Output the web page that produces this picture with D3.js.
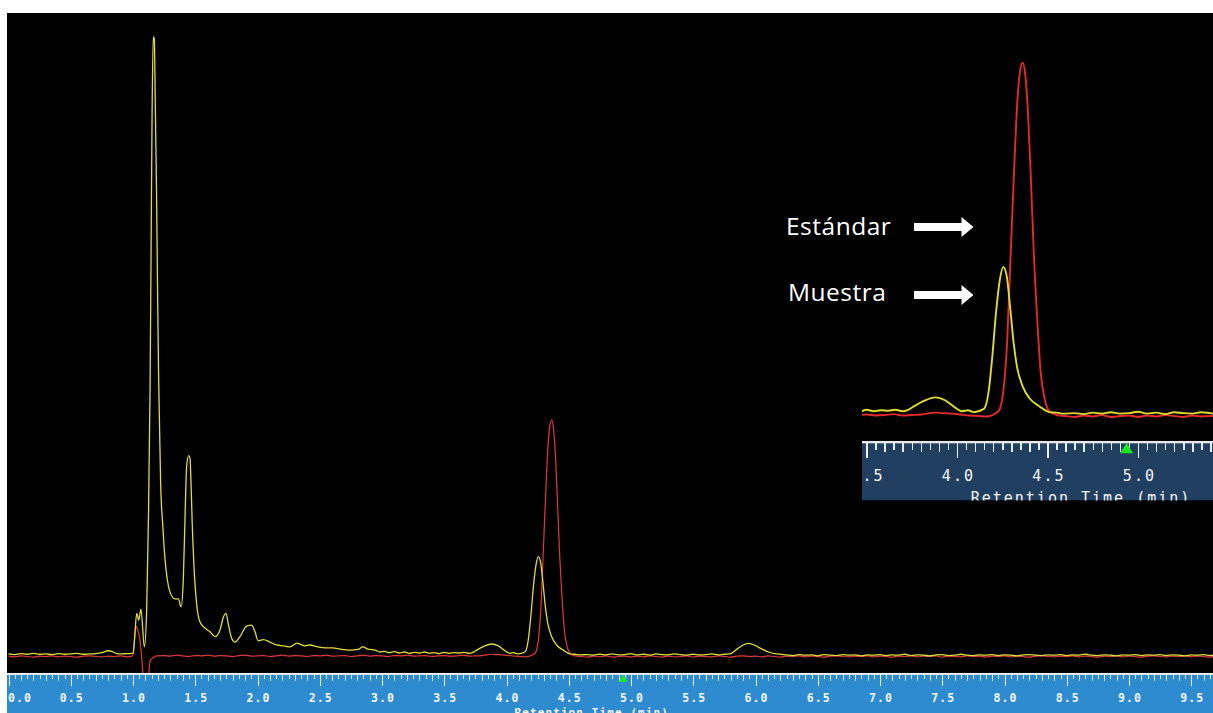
<!DOCTYPE html>
<html><head><meta charset="utf-8">
<script src="https://cdn.jsdelivr.net/npm/d3@7"></script>
<style>html,body{margin:0;padding:0;background:#fff;overflow:hidden}</style>
</head><body><svg id="c" width="1213" height="713"></svg>
<script>
// ---- Data: [retention time (min), signal (arbitrary units)] ----
const yellowSignal = [
[0.00,0.8],[0.05,0.6],[0.10,0.9],[0.15,0.7],[0.20,1.0],[0.25,0.7],[0.30,0.8],[0.35,0.6],[0.40,0.9],[0.45,0.7],
[0.50,0.8],[0.55,1.0],[0.60,0.7],[0.65,0.8],[0.70,0.9],[0.75,1.2],[0.80,1.8],[0.83,1.6],[0.87,0.9],[0.90,0.8],
[0.95,0.9],[0.99,1.0],
[1.002,1.1],[1.012,5.2],[1.030,13.5],[1.046,11.4],[1.064,14.8],[1.091,3.0],[1.110,14.8],[1.123,41.1],[1.137,83.3],
[1.145,125.2],[1.153,168.6],[1.163,193.6],[1.171,193.0],[1.179,172.7],[1.190,142.3],[1.198,112.0],[1.206,87.0],
[1.214,70.2],[1.222,54.2],[1.239,41.1],[1.257,30.5],[1.276,23.9],[1.297,20.2],[1.337,18.0],[1.364,18.0],[1.386,15.5],
[1.404,23.9],[1.418,43.6],[1.431,59.5],[1.447,62.8],[1.458,62.0],[1.466,54.2],[1.476,41.1],[1.490,28.0],[1.512,16.1],
[1.538,10.8],[1.578,8.9],[1.618,7.7],[1.659,6.2],[1.699,8.3],[1.725,12.2],[1.747,13.5],[1.765,10.2],[1.793,5.6],
[1.819,4.5],[1.859,6.2],[1.913,9.5],[1.953,9.8],[1.980,7.7],[2.006,4.9],[2.047,5.3],[2.100,4.5],[2.154,3.6],
[2.210,3.3],[2.261,3.0],[2.317,4.2],[2.341,3.9],[2.380,3.3],[2.420,3.6],[2.486,3.0],[2.542,2.7],[2.606,2.7],
[2.663,2.3],[2.743,2.0],[2.807,2.2],[2.847,3.0],[2.888,2.3],[2.944,2.0],[2.984,1.4],[3.02,1.6],[3.06,1.2],
[3.10,1.5],[3.14,1.1],[3.18,1.4],[3.22,1.0],[3.26,1.3],[3.30,1.1],[3.34,1.4],[3.38,1.0],[3.42,1.2],[3.46,0.9],
[3.50,1.3],[3.54,1.0],[3.58,1.2],[3.62,1.1],[3.66,1.3],[3.70,1.0],[3.73,1.3],
[3.761,2.0],[3.814,3.1],[3.881,3.9],[3.934,3.3],[3.988,1.8],[4.028,1.0],[4.060,1.2],[4.092,0.8],[4.149,1.5],
[4.175,5.2],[4.195,12.4],[4.216,21.8],[4.237,28.6],[4.256,31.2],[4.275,29.2],[4.296,21.8],[4.312,15.6],[4.331,10.4],
[4.363,6.2],[4.403,3.6],[4.456,2.0],[4.510,0.8],[4.550,0.7],[4.590,0.5],
[4.65,0.6],[4.70,0.4],[4.75,0.7],[4.80,0.5],[4.85,0.8],[4.90,0.5],[4.95,0.6],[5.00,0.9],[5.05,0.5],[5.10,0.7],
[5.15,0.4],[5.20,0.8],[5.25,0.6],[5.30,0.5],[5.35,0.8],[5.40,0.6],[5.45,0.4],[5.50,0.7],[5.55,0.5],[5.60,0.6],
[5.65,0.8],[5.70,0.5],[5.75,0.7],
[5.795,0.8],[5.851,2.3],[5.900,3.6],[5.940,4.1],[5.988,3.6],[6.052,2.3],[6.116,1.25],[6.173,0.8],
[6.25,0.5],[6.30,0.3],[6.35,0.6],[6.40,0.4],[6.45,0.5],[6.50,0.2],[6.55,0.6],[6.60,0.4],[6.65,0.3],[6.70,0.6],
[6.75,0.4],[6.80,0.5],[6.85,0.2],[6.90,0.5],[6.95,0.4],[7.00,0.6],[7.05,0.3],[7.10,0.5],[7.15,0.4],[7.20,0.7],
[7.25,0.3],[7.30,0.5],[7.35,0.4],[7.40,0.2],[7.45,0.5],[7.50,0.6],[7.55,0.3],[7.60,0.4],[7.65,0.7],[7.70,0.4],
[7.75,0.3],[7.80,0.5],[7.85,0.4],[7.90,0.6],[7.95,0.3],[8.00,0.5],[8.05,0.4],[8.10,0.2],[8.15,0.5],[8.20,0.6],
[8.25,0.4],[8.30,0.3],[8.35,0.5],[8.40,0.4],[8.45,0.6],[8.50,0.3],[8.55,0.5],[8.60,0.4],[8.65,0.7],[8.70,0.4],
[8.75,0.3],[8.80,0.5],[8.85,0.4],[8.90,0.2],[8.95,0.5],[9.00,0.4],[9.05,0.6],[9.10,0.3],[9.15,0.5],[9.20,0.4],
[9.25,0.6],[9.30,0.3],[9.35,0.5],[9.40,0.4],[9.45,0.2],[9.50,0.5],[9.55,0.4],[9.60,0.6],[9.65,0.3],[9.70,0.5],[9.75,0.4]
];

const redSignal = [
[0.00,0.1],[0.05,-0.1],[0.10,0.2],[0.15,0.0],[0.20,-0.2],[0.25,0.1],[0.30,0.0],[0.35,0.2],[0.40,-0.1],[0.45,0.1],
[0.50,0.0],[0.55,-0.2],[0.60,0.1],[0.65,0.2],[0.70,0.0],[0.75,-0.1],[0.80,0.1],[0.85,0.0],[0.90,0.2],[0.95,-0.1],
[0.998,0.2],[1.008,3.6],[1.024,9.5],[1.032,8.9],[1.043,7.7],[1.056,5.2],[1.068,0.5],[1.083,-7.0],[1.098,-12.0],
[1.112,-12.5],[1.123,-7.5],[1.137,-1.4],[1.163,-0.3],[1.19,0.2],
[1.25,0.3],[1.30,0.1],[1.35,0.4],[1.40,0.2],[1.45,0.0],[1.50,0.3],[1.55,0.2],[1.60,0.4],[1.65,0.1],[1.70,0.3],
[1.75,0.2],[1.80,0.0],[1.85,0.3],[1.90,0.4],[1.95,0.1],[2.00,0.2],[2.05,0.3],[2.10,0.0],[2.15,0.2],[2.20,0.4],
[2.25,0.1],[2.30,0.3],[2.35,0.2],[2.40,0.0],[2.45,0.3],[2.50,0.2],[2.55,0.4],[2.60,0.1],[2.65,0.2],[2.70,0.3],
[2.75,0.0],[2.80,0.2],[2.85,0.4],[2.90,0.1],[2.95,0.3],[3.00,0.2],[3.05,0.0],[3.10,0.3],[3.15,0.2],[3.20,0.4],
[3.25,0.1],[3.30,0.2],[3.35,0.3],[3.40,0.0],[3.45,0.2],[3.50,0.3],[3.55,0.1],[3.60,0.2],[3.65,0.4],[3.70,0.1],[3.75,0.2],
[3.80,0.3],[3.85,0.6],[3.88,0.7],[3.92,0.6],[3.97,0.5],[4.02,0.3],[4.07,0.1],[4.12,0.0],[4.161,-0.1],
[4.229,1.0],[4.256,5.2],[4.277,15.6],[4.296,33.3],[4.315,51.0],[4.333,65.6],[4.349,72.3],[4.363,73.9],[4.376,71.8],
[4.392,63.5],[4.408,49.9],[4.424,34.3],[4.444,19.8],[4.462,9.3],[4.484,3.6],[4.510,1.0],[4.550,0.2],
[4.60,0.0],[4.65,-0.2],[4.70,0.1],[4.75,-0.1],[4.80,0.2],[4.85,-0.2],[4.90,0.0],[4.95,0.1],[5.00,-0.2],[5.05,0.1],
[5.10,-0.1],[5.15,0.2],[5.20,0.0],[5.25,-0.2],[5.30,0.1],[5.35,-0.1],[5.40,0.0],[5.45,0.2],[5.50,-0.2],[5.55,0.1],
[5.60,0.0],[5.65,-0.1],[5.70,0.2],[5.75,0.0],[5.80,-0.2],[5.85,0.1],[5.90,0.2],[5.95,0.0],[6.00,0.1],[6.05,-0.1],
[6.10,0.2],[6.15,0.0],[6.20,-0.2],[6.25,0.1],[6.30,0.0],[6.35,0.2],[6.40,-0.1],[6.45,0.1],[6.50,0.0],[6.55,-0.2],
[6.60,0.1],[6.65,0.2],[6.70,0.0],[6.75,-0.1],[6.80,0.1],[6.85,0.0],[6.90,0.2],[6.95,-0.1],[7.00,0.1],[7.05,0.0],
[7.10,-0.2],[7.15,0.1],[7.20,0.0],[7.25,0.2],[7.30,-0.1],[7.35,0.1],[7.40,0.0],[7.45,0.2],[7.50,-0.2],[7.55,0.1],
[7.60,0.0],[7.65,-0.1],[7.70,0.2],[7.75,0.0],[7.80,0.1],[7.85,-0.2],[7.90,0.1],[7.95,0.0],[8.00,0.2],[8.05,-0.1],
[8.10,0.1],[8.15,0.0],[8.20,-0.2],[8.25,0.1],[8.30,0.2],[8.35,0.0],[8.40,-0.1],[8.45,0.1],[8.50,0.0],[8.55,0.2],
[8.60,-0.1],[8.65,0.1],[8.70,0.0],[8.75,-0.2],[8.80,0.1],[8.85,0.0],[8.90,0.2],[8.95,-0.1],[9.00,0.1],[9.05,0.0],
[9.10,-0.2],[9.15,0.1],[9.20,0.2],[9.25,0.0],[9.30,-0.1],[9.35,0.1],[9.40,0.0],[9.45,0.2],[9.50,-0.1],[9.55,0.1],
[9.60,0.0],[9.65,-0.2],[9.70,0.1],[9.75,0.0]
];

const mainTickValues = [0.0,0.5,1.0,1.5,2.0,2.5,3.0,3.5,4.0,4.5,5.0,5.5,6.0,6.5,7.0,7.5,8.0,8.5,9.0,9.5];
const mainTickLabels = ["0.0","0.5","1.0","1.5","2.0","2.5","3.0","3.5","4.0","4.5","5.0","5.5","6.0","6.5","7.0","7.5","8.0","8.5","9.0","9.5"];
const insetTickValues = [3.5,4.0,4.5,5.0];
const insetTickLabels = ["3.5","4.0","4.5","5.0"];
const axisTitle = "Retention Time (min)";
const annotationLabels = ["Estándar","Muestra"];
const markerTime = 4.937;
const titleTime = 4.685;

// ---- Drawing ----
const W = 1213, H = 713;
const svg = d3.select("#c");
svg.append("rect").attr("width", W).attr("height", H).attr("fill", "#fff");
svg.append("rect").attr("x", 7).attr("y", 13).attr("width", W - 7).attr("height", 660).attr("fill", "#000");

const defs = svg.append("defs");
defs.append("clipPath").attr("id", "mainClip").append("rect")
  .attr("x", 7).attr("y", 13).attr("width", W - 7).attr("height", 660);
defs.append("clipPath").attr("id", "insetClip").append("rect")
  .attr("x", 862).attr("y", 13).attr("width", W - 862).attr("height", 428);
defs.append("clipPath").attr("id", "insetAxisClip").append("rect")
  .attr("x", 862).attr("y", 440).attr("width", W - 862).attr("height", 60.5);
defs.append("clipPath").attr("id", "mainAxisClip").append("rect")
  .attr("x", 7).attr("y", 672).attr("width", W - 7).attr("height", 41);

const x = d3.scaleLinear().domain([0, 10]).range([8.5, 1253.5]);
const y = d3.scaleLinear().domain([0, 200]).range([656.5, 16.5]);

const lineMain = d3.line().x(d => x(d[0])).y(d => y(d[1])).curve(d3.curveMonotoneX);
const gMain = svg.append("g").attr("clip-path", "url(#mainClip)");
gMain.append("path").datum(redSignal).attr("d", lineMain)
  .attr("fill", "none").attr("stroke", "#e3393a").attr("stroke-width", 1.2).attr("stroke-linejoin", "round");
gMain.append("path").datum(yellowSignal).attr("d", lineMain)
  .attr("fill", "none").attr("stroke", "#e0de3a").attr("stroke-width", 1.3).attr("stroke-linejoin", "round");

// main axis bar
const gAx = svg.append("g").attr("clip-path", "url(#mainAxisClip)");
gAx.append("rect").attr("x", 7).attr("y", 674.5).attr("width", W - 7).attr("height", H - 674.5).attr("fill", "#2e8bcf");
gAx.append("rect").attr("x", 7).attr("y", 673).attr("width", W - 7).attr("height", 1.7).attr("fill", "#f2f2f2");

function styleAxis(g, color, font, size, ls) {
  g.select(".domain").remove();
  g.selectAll(".tick line").attr("stroke", color).attr("stroke-width", 1).attr("shape-rendering", "crispEdges");
  g.selectAll(".tick text").attr("fill", "#f4f7fb").attr("font-family", font)
    .attr("font-size", size).attr("letter-spacing", ls);
}
const mono = "'DejaVu Sans Mono', 'Liberation Mono', monospace";
const fine = d3.range(0, 196).map(i => +(i * 0.05).toFixed(2));
const tenth = d3.range(0, 98).map(i => +(i * 0.1).toFixed(1));

const axMinor = gAx.append("g").attr("transform", "translate(0,674.5)")
  .call(d3.axisBottom(x).tickValues(fine).tickSize(4).tickFormat(""));
styleAxis(axMinor, "#d9e8f6", mono, 11, 0);
const axMed = gAx.append("g").attr("transform", "translate(0,674.5)")
  .call(d3.axisBottom(x).tickValues(tenth).tickSize(6).tickFormat(""));
styleAxis(axMed, "#d9e8f6", mono, 11, 0);
const axMajor = gAx.append("g").attr("transform", "translate(0,674.5)")
  .call(d3.axisBottom(x).tickValues(mainTickValues).tickSize(11).tickPadding(8)
    .tickFormat((d, i) => mainTickLabels[i]));
styleAxis(axMajor, "#eef5fb", mono, 11.5, 1.0);
axMajor.selectAll(".tick text").attr("font-weight", "bold").attr("x", d => d === 0 ? 11 : 0.5);

gAx.append("text").attr("x", x(titleTime)).attr("y", 716).attr("text-anchor", "middle")
  .attr("fill", "#f4f7fb").attr("font-family", mono).attr("font-size", 11).attr("letter-spacing", 1.1)
  .attr("font-weight", "bold").text(axisTitle);

const xm = x(markerTime);
gAx.append("path").attr("d", `M${xm},674.5 L${xm + 4.5},682 L${xm - 4.5},682 Z`).attr("fill", "#1ee61e");

// ---- Inset (zoomed view) ----
const xi = d3.scaleLinear().domain([3.5, 5.5]).range([866.5, 1228.5]);
const yi = d3.scaleLinear().domain([0, 80]).range([416, 33.6]);
svg.append("rect").attr("x", 862).attr("y", 13).attr("width", W - 862).attr("height", 428).attr("fill", "#000");
const lineInset = d3.line().x(d => xi(d[0])).y(d => yi(d[1])).curve(d3.curveMonotoneX);
const gIn = svg.append("g").attr("clip-path", "url(#insetClip)");
gIn.append("path").datum(redSignal).attr("d", lineInset)
  .attr("fill", "none").attr("stroke", "#e3292a").attr("stroke-width", 1.9).attr("stroke-linejoin", "round");
gIn.append("path").datum(yellowSignal).attr("d", lineInset)
  .attr("fill", "none").attr("stroke", "#dedc30").attr("stroke-width", 1.9).attr("stroke-linejoin", "round");

const gIa = svg.append("g").attr("clip-path", "url(#insetAxisClip)");
gIa.append("rect").attr("x", 862).attr("y", 443).attr("width", W - 862).attr("height", 57.5).attr("fill", "#213f60");
gIa.append("rect").attr("x", 862).attr("y", 441).attr("width", W - 862).attr("height", 2.3).attr("fill", "#e8e8e8");
const fineIn = d3.range(70, 112).map(i => +(i * 0.05).toFixed(2));
const tenthIn = d3.range(35, 56).map(i => +(i * 0.1).toFixed(1));
const iaMinor = gIa.append("g").attr("transform", "translate(0,443.3)")
  .call(d3.axisBottom(xi).tickValues(fineIn).tickSize(7).tickFormat(""));
styleAxis(iaMinor, "#e6eef6", mono, 15, 0);
iaMinor.selectAll(".tick line").attr("stroke-width", 1.5);
const iaMed = gIa.append("g").attr("transform", "translate(0,443.3)")
  .call(d3.axisBottom(xi).tickValues(tenthIn).tickSize(9).tickFormat(""));
styleAxis(iaMed, "#e6eef6", mono, 15, 0);
iaMed.selectAll(".tick line").attr("stroke-width", 1.5);
const iaMajor = gIa.append("g").attr("transform", "translate(0,443.3)")
  .call(d3.axisBottom(xi).tickValues(insetTickValues).tickSize(15).tickPadding(12)
    .tickFormat((d, i) => insetTickLabels[i]));
styleAxis(iaMajor, "#f0f4f8", mono, 15, 2.2);
iaMajor.selectAll(".tick line").attr("stroke-width", 1.5);
iaMajor.selectAll(".tick text").attr("x", 1);
gIa.append("text").attr("x", xi(titleTime)).attr("y", 502.6).attr("text-anchor", "middle")
  .attr("fill", "#f4f7fb").attr("font-family", mono).attr("font-size", 15).attr("letter-spacing", 2)
  .text(axisTitle);
const xmi = xi(markerTime);
gIa.append("path").attr("d", `M${xmi},442.7 L${xmi + 6.5},453.3 L${xmi - 6.5},453.3 Z`).attr("fill", "#1ee61e");

// ---- Annotations ----
const annY = [227, 295];
const annBase = [235, 301];
const annTextX = [786, 788];
annotationLabels.forEach((lab, i) => {
  svg.append("text").attr("x", annTextX[i]).attr("y", annBase[i])
    .attr("fill", "#fff").attr("font-family", "'Open Sans', 'Noto Sans', sans-serif").attr("font-size", 24.5)
    .attr("letter-spacing", 0.5).text(lab);
  const cy = annY[i];
  svg.append("path")
    .attr("d", `M914,${cy - 4} L961.5,${cy - 4} L961.5,${cy - 10} L973.5,${cy} L961.5,${cy + 10} L961.5,${cy + 4} L914,${cy + 4} Z`)
    .attr("fill", "#fff");
});
</script>
</body></html>
